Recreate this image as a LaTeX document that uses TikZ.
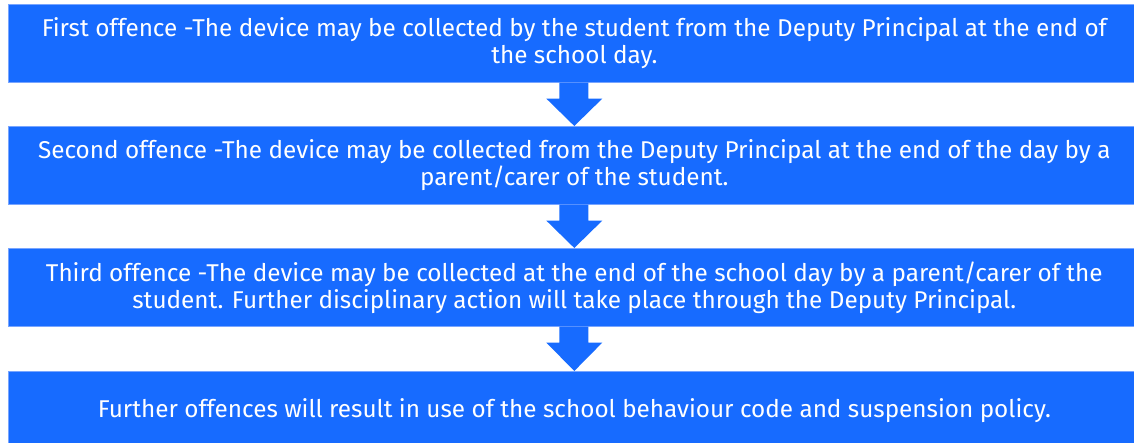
\documentclass[tikz,border=0pt]{standalone}
\usepackage{fontspec}
\setmainfont{Fira Sans}
\usetikzlibrary{calc}
\definecolor{stepblue}{RGB}{23,107,255}
\definecolor{stepedge}{RGB}{120,165,255}
\begin{document}
\begin{tikzpicture}[x=1pt,y=-1pt,
  stepbox/.style={rectangle, fill=stepblue, draw=stepedge, line width=0.6pt,
    anchor=north west, minimum width=1132pt, minimum height=78pt,
    inner sep=0pt, text=white, align=center,
    font=\fontsize{24.3}{27}\selectfont},
  downarrow/.style={fill=stepblue, draw=none}]
\useasboundingbox (0,0) rectangle (1134,442);

\node[stepbox] (b1) at (8,4) {First offence -The device may be collected by the student from the Deputy Principal at the end of\\the school day.};
\node[stepbox] (b2) at (8,126) {Second offence -The device may be collected from the Deputy Principal at the end of the day by a\\parent/carer of the student.};
\node[stepbox] (b3) at (8,248) {Third offence -The device may be collected at the end of the school day by a parent/carer of the\\student. Further disciplinary action will take place through the Deputy Principal.};
\node[stepbox] (b4) at (8,371) {Further offences will result in use of the school behaviour code and suspension policy.};

% block arrows between consecutive boxes
\foreach \a/\b in {b1/b2, b2/b3, b3/b4}{
  \fill[downarrow]
    ($(\a.south)+(-15,0)$) -- ($(\a.south)+(14,0)$)
    -- ($(\a.south)+(14,16)$) -- ($(\a.south)+(28,16)$)
    -- (\b.north)
    -- ($(\a.south)+(-28,16)$) -- ($(\a.south)+(-15,16)$) -- cycle;
}
\end{tikzpicture}
\end{document}
